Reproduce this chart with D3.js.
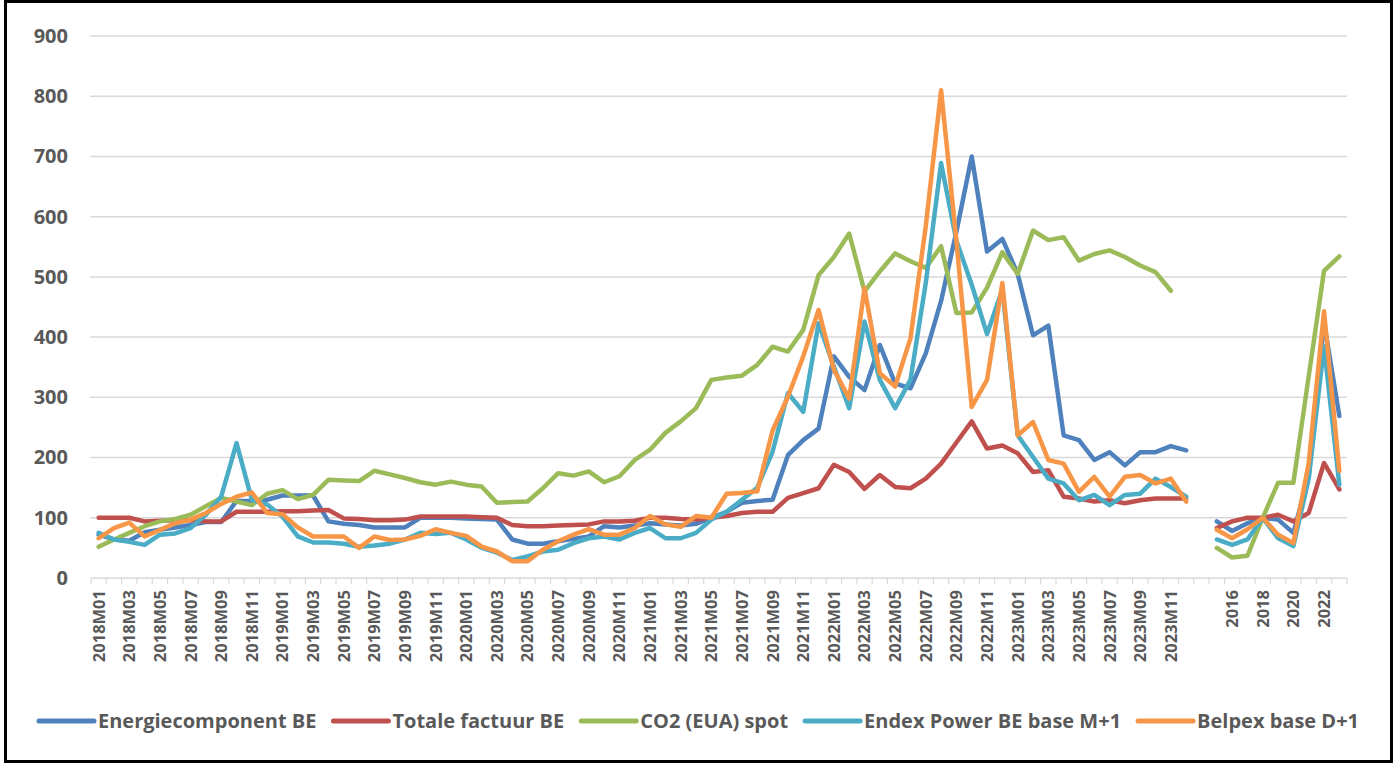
<!DOCTYPE html>
<html>
<head>
<meta charset="utf-8">
<script src="https://cdn.jsdelivr.net/npm/d3@7"></script>
<style>
  body { margin: 0; background: #fff; }
  svg { display: block; }
</style>
</head>
<body>
<script>
// monthly part 2018M01..2023M12, then a gap, then yearly part 2015..2023
const monthYears = [2018, 2019, 2020, 2021, 2022, 2023];
const monthNums = ["01","02","03","04","05","06","07","08","09","10","11","12"];
const years = ["2015","2016","2017","2018","2019","2020","2021","2022","2023"];

const seriesNames = ["Energiecomponent BE", "Totale factuur BE", "CO2 (EUA) spot", "Endex Power BE base M+1", "Belpex base D+1"];
const colors = ["#4F81BD", "#C0504D", "#9BBB59", "#4BACC6", "#F79646"];

const energieM = [72,64,62,76,80,84,88,93,93,128,128,130, 137,137,137,94,90,88,84,84,84,100,100,100,
  99,98,97,64,57,57,61,65,69,86,84,87, 91,89,87,90,100,110,125,128,130,204,229,248,
  368,334,312,387,323,315,373,460,575,700,542,563, 505,403,419,237,229,196,209,187,209,209,219,212];
const totaleM = [100,100,100,94,95,96,96,94,94,110,110,110, 111,111,112,113,99,98,96,96,97,102,102,102,
  102,101,100,88,86,86,87,88,89,94,94,95, 100,100,98,97,100,103,108,110,110,133,141,149,
  188,176,148,171,151,149,165,190,225,260,215,220, 207,176,179,135,132,127,129,124,129,132,132,132];
const co2M = [52,64,75,86,94,98,105,119,133,127,121,140, 146,131,138,163,162,161,178,172,166,159,155,160,
  155,152,125,126,127,149,174,170,177,159,169,196, 213,241,260,282,329,333,336,354,384,376,412,503,
  533,572,476,509,539,526,515,551,440,441,482,541, 505,577,561,566,527,538,544,533,519,508,477,null];
const endexM = [75,64,60,55,72,74,83,105,135,224,130,122, 102,69,59,59,57,52,54,57,64,75,73,75,
  64,50,42,30,36,44,47,58,66,69,64,75, 83,66,66,75,97,110,130,150,210,307,276,423,
  351,282,426,329,282,329,490,689,560,487,405,479, 237,201,165,157,129,138,121,138,140,165,151,135];
const belpexM = [66,83,92,69,80,91,97,108,123,135,142,108, 106,84,69,69,69,50,69,63,64,70,81,75,
  70,52,44,28,28,47,61,72,81,72,72,83, 103,89,85,103,100,140,141,144,245,301,368,445,
  346,298,481,340,318,398,584,810,560,284,329,490, 237,259,196,190,143,168,135,168,171,157,165,127];

const energieY = [94,78,91,100,97,75,170,425,269];
const totaleY = [83,94,100,100,105,94,108,191,147];
const co2Y = [50,34,37,100,158,158,335,510,534];
const endexY = [64,55,64,100,66,53,165,385,155];
const belpexY = [80,66,81,100,72,58,191,443,178];

const yTicks = [0,100,200,300,400,500,600,700,800,900];

const months = [];
monthYears.forEach(y => monthNums.forEach(m => months.push(y + "M" + m)));
const gapKey = " ";
const categories = months.concat([gapKey], years);

const monthly = [energieM, totaleM, co2M, endexM, belpexM];
const yearly = [energieY, totaleY, co2Y, endexY, belpexY];

const width = 1397, height = 764;
const svg = d3.select("body").append("svg")
  .attr("width", width).attr("height", height);

svg.append("rect").attr("x", 5.5).attr("y", 1.5).attr("width", 1386).attr("height", 760)
  .attr("fill", "#fff").attr("stroke", "#000").attr("stroke-width", 3);

const x = d3.scaleBand().domain(categories).range([91, 1347]).padding(0);
const y = d3.scaleLinear().domain([0, 900]).range([578, 36]);

// gridlines
svg.append("g").selectAll("line").data(yTicks.filter(d => d > 0)).join("line")
  .attr("x1", 90).attr("x2", 1347)
  .attr("y1", d => y(d)).attr("y2", d => y(d))
  .attr("stroke", "#D9D9D9").attr("stroke-width", 1.5);

// y axis labels
const yAxis = d3.axisLeft(y).tickValues(yTicks).tickSize(0).tickPadding(23);
const yg = svg.append("g").attr("transform", "translate(91,0)").call(yAxis);
yg.select(".domain").remove();
yg.selectAll("text")
  .attr("fill", "#595959")
  .style("font-family", "'Open Sans', 'Liberation Sans', sans-serif")
  .style("font-weight", "700").style("font-size", "20px");

// x axis: line, tick marks between categories, rotated labels every second category
const xg = svg.append("g").attr("transform", "translate(0,578)");
xg.append("line").attr("x1", 91).attr("x2", 1347).attr("stroke", "#D9D9D9").attr("stroke-width", 1.5);
xg.selectAll(".tickmark").data(d3.range(categories.length + 1)).join("line")
  .attr("class", "tickmark")
  .attr("x1", i => 91 + i * x.bandwidth()).attr("x2", i => 91 + i * x.bandwidth())
  .attr("y1", 0).attr("y2", 6)
  .attr("stroke", "#D9D9D9").attr("stroke-width", 1.2);

const xAxis = d3.axisBottom(x)
  .tickValues(categories.filter((c, i) => i % 2 === 0 && c !== gapKey))
  .tickSize(0);
const xl = svg.append("g").attr("transform", "translate(0,578)").call(xAxis);
xl.select(".domain").remove();
xl.selectAll("text")
  .attr("transform", "rotate(-90)")
  .attr("x", -12).attr("y", 0).attr("dy", "0.36em")
  .style("text-anchor", "end")
  .attr("fill", "#595959")
  .style("font-family", "'Open Sans', 'Liberation Sans', sans-serif")
  .style("font-weight", "700").style("font-size", "16.5px");

// lines
const line = d3.line()
  .defined(d => d.v !== null)
  .x(d => x(d.c) + x.bandwidth() / 2)
  .y(d => y(d.v));

const lines = svg.append("g").attr("fill", "none")
  .attr("stroke-width", 4.5).attr("stroke-linejoin", "round").attr("stroke-linecap", "round");

seriesNames.forEach((name, s) => {
  lines.append("path")
    .attr("stroke", colors[s])
    .attr("d", line(monthly[s].map((v, i) => ({c: months[i], v: v}))));
  lines.append("path")
    .attr("stroke", colors[s])
    .attr("d", line(yearly[s].map((v, i) => ({c: years[i], v: v}))));
});

// legend
const legend = svg.append("g").attr("transform", "translate(0,721)");
const items = legend.selectAll("g").data(seriesNames).join("g");
items.append("line").attr("x1", 0).attr("x2", 55)
  .attr("stroke", (d, i) => colors[i]).attr("stroke-width", 5).attr("stroke-linecap", "round");
items.append("text").attr("x", 59).attr("dy", "0.35em")
  .attr("fill", "#595959")
  .style("font-family", "'Open Sans', 'Liberation Sans', sans-serif")
  .style("font-weight", "700").style("font-size", "20px")
  .text(d => d);

const gap = 17;
const widths = [];
items.each(function() { widths.push(59 + d3.select(this).select("text").node().getComputedTextLength()); });
const total = d3.sum(widths) + gap * (widths.length - 1);
let cx = 699 - total / 2;
items.attr("transform", (d, i) => {
  const t = "translate(" + cx + ",0)";
  cx += widths[i] + gap;
  return t;
});
</script>
</body>
</html>
